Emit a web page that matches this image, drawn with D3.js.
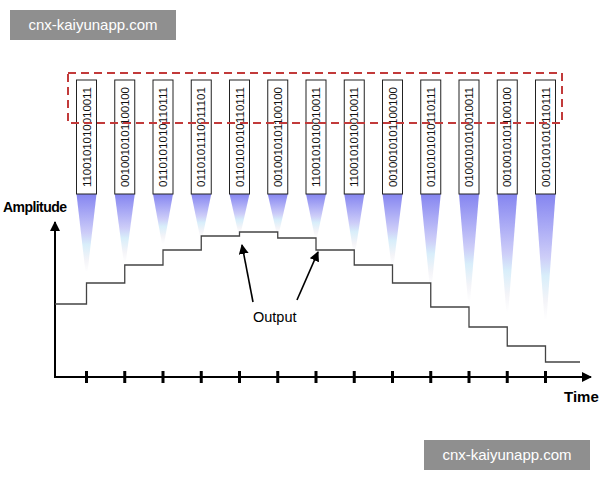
<!DOCTYPE html>
<html><head><meta charset="utf-8">
<script src="https://cdn.jsdelivr.net/npm/d3@7"></script>
<style>body{margin:0;background:#fff}svg{display:block;font-family:"Liberation Sans",Arial,sans-serif}</style>
</head><body><svg id="c" width="600" height="480"></svg>
<script>
// sample codes, one per time step
var codes = ["1100101010010011","0010010101100100","0110101010110111","0110101110011101",
  "0110101010110111","0010010101100100","1100101010010011","1100101010010011",
  "0010010101100100","0110101010110111","0100101010010011","0010010101100100","0010101010110111"];
// output level before first sample, then after each sample
var levels = [73, 94, 112, 127, 141, 145, 139, 127, 112, 94, 70, 50, 31, 15];
// length of the fading cone under each code
var coneLen = [68, 58, 40, 34, 30, 30, 34, 48, 62, 82, 98, 108, 116];

var svg = d3.select("#c");
var x = d3.scaleLinear().domain([0, 12]).range([86.5, 545.5]);
var y = d3.scaleLinear().domain([0, 160]).range([377, 217]);

var defs = svg.append("defs");
var g = defs.append("linearGradient").attr("id", "cone").attr("x1", 0).attr("y1", 0).attr("x2", 0).attr("y2", 1);
[[0, "#8585f0"], [0.25, "#a9a9f5"], [0.5, "#cdcdf8"], [0.65, "#d8eefa"], [0.85, "#f4f4f8"], [1, "#ffffff"]]
  .forEach(function(s) { g.append("stop").attr("offset", s[0]).attr("stop-color", s[1]); });
defs.append("marker").attr("id", "ah").attr("viewBox", "0 0 10 10").attr("refX", 9).attr("refY", 5)
  .attr("markerWidth", 10).attr("markerHeight", 10).attr("markerUnits", "userSpaceOnUse").attr("orient", "auto")
  .append("path").attr("d", "M0,0L10,5L0,10z").attr("fill", "#000");

// cones
svg.selectAll(".cone").data(codes).enter().append("path")
  .attr("fill", "url(#cone)")
  .attr("d", function(d, i) {
    var cx = x(i), h = 194 + coneLen[i] + 10;
    return "M" + (cx - 10) + ",194L" + (cx + 10) + ",194L" + (cx + 1) + "," + h + "L" + (cx - 1) + "," + h + "Z";
  });

// code boxes
var box = svg.selectAll(".box").data(codes).enter().append("g")
  .attr("transform", function(d, i) { return "translate(" + x(i) + ",0)"; });
box.append("rect").attr("x", -10).attr("y", 80).attr("width", 20).attr("height", 114)
  .attr("fill", "#fff").attr("stroke", "#222").attr("stroke-width", 1);
box.append("text").attr("transform", "translate(4,137) rotate(-90)").attr("text-anchor", "middle")
  .attr("font-size", 11.5).attr("textLength", 100).attr("fill", "#111").text(function(d) { return d; });

// dashed frame
svg.append("rect").attr("x", 68).attr("y", 73).attr("width", 494).attr("height", 50)
  .attr("fill", "none").attr("stroke", "#c23a3a").attr("stroke-width", 2).attr("stroke-dasharray", "8,5");

// axes
svg.append("line").attr("x1", 55).attr("y1", 378).attr("x2", 55).attr("y2", 222)
  .attr("stroke", "#000").attr("stroke-width", 2).attr("marker-end", "url(#ah)");
svg.append("line").attr("x1", 54).attr("y1", 377).attr("x2", 591).attr("y2", 377)
  .attr("stroke", "#000").attr("stroke-width", 2).attr("marker-end", "url(#ah)");
svg.selectAll(".tick").data(codes).enter().append("line")
  .attr("x1", function(d, i) { return x(i); }).attr("x2", function(d, i) { return x(i); })
  .attr("y1", 371).attr("y2", 383).attr("stroke", "#000").attr("stroke-width", 3);

// staircase output
var pts = levels.map(function(v, i) { return [i === 0 ? 55 : x(i - 1), y(v)]; });
pts.push([580, y(levels[levels.length - 1])]);
svg.append("path").attr("d", d3.line().curve(d3.curveStepAfter)(pts))
  .attr("fill", "none").attr("stroke", "#444").attr("stroke-width", 1.3);

svg.append("text").attr("x", 3).attr("y", 212).attr("font-size", 14).attr("font-weight", "bold")
  .attr("textLength", 64).text("Amplitude");
svg.append("text").attr("x", 564).attr("y", 402).attr("font-size", 15).attr("font-weight", "bold").text("Time");
svg.append("text").attr("x", 253).attr("y", 322).attr("font-size", 14.5).text("Output");
svg.append("line").attr("x1", 253).attr("y1", 302).attr("x2", 242).attr("y2", 245)
  .attr("stroke", "#000").attr("stroke-width", 1.6).attr("marker-end", "url(#ah)");
svg.append("line").attr("x1", 297).attr("y1", 300).attr("x2", 318).attr("y2", 252)
  .attr("stroke", "#000").attr("stroke-width", 1.6).attr("marker-end", "url(#ah)");

// watermarks
[[10, 10], [424, 440]].forEach(function(p) {
  svg.append("rect").attr("x", p[0]).attr("y", p[1]).attr("width", 166).attr("height", 30).attr("fill", "#8f8f8f");
  svg.append("text").attr("x", p[0] + 83).attr("y", p[1] + 20).attr("text-anchor", "middle")
    .attr("font-size", 15).attr("fill", "#fff").text("cnx-kaiyunapp.com");
});
</script></body></html>
